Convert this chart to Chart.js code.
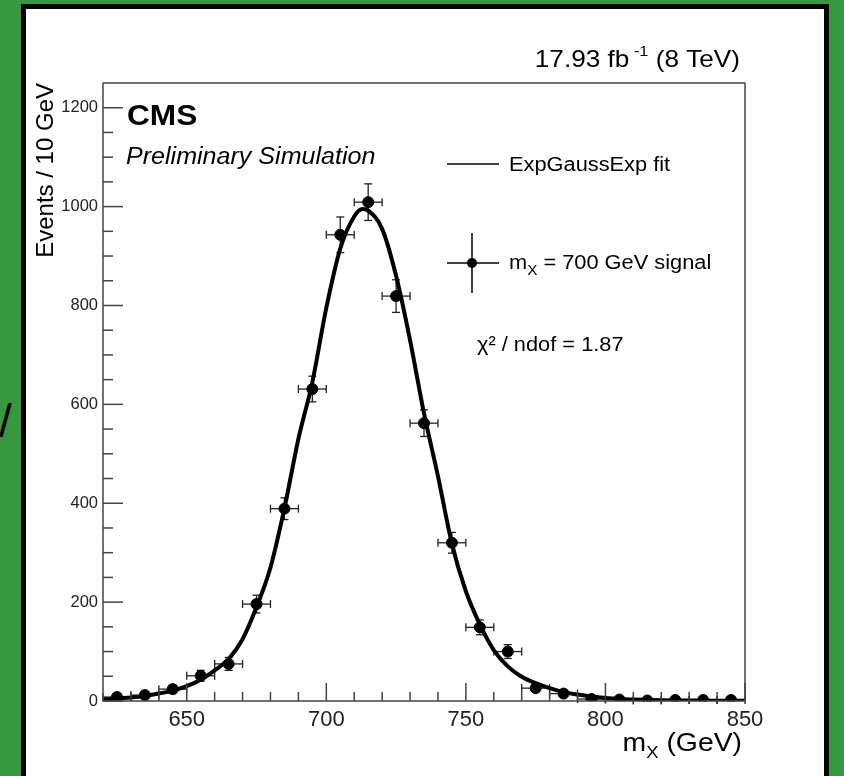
<!DOCTYPE html>
<html>
<head>
<meta charset="utf-8">
<title>m_X signal shape</title>
<script src="https://cdn.jsdelivr.net/npm/chart.js@4"></script>
<style>
  html, body { margin: 0; padding: 0; }
  body { width: 844px; height: 776px; background: #36993f; position: relative; overflow: hidden; }
  #panel { position: absolute; left: 21px; top: 4px; width: 798px; height: 800px; background: #fff; border: 5px solid #000; border-bottom: none; }
  #slash { position: absolute; left: -1px; top: 398px; font: 46px/46px "Liberation Sans", Arial, sans-serif; color: #000; }
  #plot { position: absolute; left: 0; top: 0; }
</style>
</head>
<body>
<div id="panel"></div>
<div id="slash">/</div>
<canvas id="plot" width="844" height="776"></canvas>
<script>
// bin centres (GeV) and weighted events per 10 GeV bin
const massBins = [625, 635, 645, 655, 665, 675, 685, 695, 705, 715, 725, 735,
                  745, 755, 765, 775, 785, 795, 805, 815, 825, 835, 845];
const eventCounts = [8, 12, 24, 51, 75, 196, 389, 631, 943, 1009, 819, 562,
                     320, 149, 100, 26, 15, 4, 3, 1, 2, 2, 2];
const eventErrors = [5, 6, 8, 11, 13, 18, 22, 26, 36, 37, 33, 27,
                     21, 15, 14, 7, 5, 3, 2, 1, 2, 2, 2];
const binHalfWidth = 5;

// ExpGaussExp fit curve sampled along m_X
const fitMass = [620, 625, 630, 635, 640, 645, 650, 655, 660, 665, 670, 675, 680, 685,
                 690, 695, 700, 705, 710, 713, 715, 720, 725, 730, 735, 740, 745, 750,
                 755, 760, 765, 770, 775, 780, 785, 790, 795, 800, 805, 810, 820, 830, 840, 850];
const fitEvents = [3, 5, 7, 10, 15, 21, 30, 43, 62, 85, 125, 190, 270, 390,
                   530, 645, 795, 915, 980, 995, 992, 955, 860, 730, 582, 455, 318, 222,
                   155, 103, 70, 49, 36, 26, 18, 13, 9, 6, 4, 3, 1.5, 1, 0.5, 0.3];

const xTickLabels = [650, 700, 750, 800, 850];
const yTickLabels = [0, 200, 400, 600, 800, 1000, 1200];

const FONT = '"Liberation Sans", Arial, Helvetica, sans-serif';
const STRETCH = 1.09;

// draw a run of text pieces (for sub/superscripts), optionally right aligned
function drawRich(ctx, x, y, pieces, align) {
  ctx.save();
  ctx.fillStyle = '#000';
  ctx.textAlign = 'left';
  ctx.textBaseline = 'alphabetic';
  let total = 0;
  pieces.forEach(p => {
    ctx.font = p.font;
    p.w = ctx.measureText(p.text).width * STRETCH;
    total += p.w;
  });
  let cx = align === 'right' ? x - total : x;
  pieces.forEach(p => {
    ctx.font = p.font;
    ctx.save();
    ctx.translate(cx, y + (p.dy || 0));
    ctx.scale(STRETCH, 1);
    ctx.fillText(p.text, 0, 0);
    ctx.restore();
    cx += p.w;
  });
  ctx.restore();
}

function line(ctx, x1, y1, x2, y2) {
  ctx.beginPath();
  ctx.moveTo(x1, y1);
  ctx.lineTo(x2, y2);
  ctx.stroke();
}

const errorBars = {
  id: 'errorBars',
  beforeDatasetsDraw(chart) {
    const { ctx, scales: { x, y } } = chart;
    ctx.save();
    ctx.strokeStyle = '#222';
    ctx.lineWidth = 1.3;
    massBins.forEach((m, i) => {
      const px = x.getPixelForValue(m);
      const py = y.getPixelForValue(eventCounts[i]);
      const l = x.getPixelForValue(m - binHalfWidth);
      const r = x.getPixelForValue(m + binHalfWidth);
      const t = y.getPixelForValue(eventCounts[i] + eventErrors[i]);
      const b = y.getPixelForValue(Math.max(0, eventCounts[i] - eventErrors[i]));
      line(ctx, l, py, r, py);
      line(ctx, l, py - 4, l, py + 4);
      line(ctx, r, py - 4, r, py + 4);
      line(ctx, px, t, px, b);
      line(ctx, px - 4, t, px + 4, t);
      line(ctx, px - 4, b, px + 4, b);
    });
    ctx.restore();
  }
};

const rootFrame = {
  id: 'rootFrame',
  afterDraw(chart) {
    const { ctx, chartArea: { left, right, top, bottom }, scales: { x, y } } = chart;
    ctx.save();

    // frame and inward ticks
    ctx.strokeStyle = '#444';
    ctx.lineWidth = 1.5;
    ctx.strokeRect(left, top, right - left, bottom - top);
    for (let m = 630; m <= 850; m += 10) {
      const px = x.getPixelForValue(m);
      line(ctx, px, bottom, px, bottom - (xTickLabels.includes(m) ? 18 : 9));
    }
    for (let v = 0; v < 1250; v += 50) {
      const py = y.getPixelForValue(v);
      line(ctx, left, py, left + (yTickLabels.includes(v) ? 20 : 10), py);
    }

    // legend samples
    ctx.strokeStyle = '#000';
    ctx.lineWidth = 1.5;
    line(ctx, 447, 164, 499, 164);
    line(ctx, 447, 263, 499, 263);
    line(ctx, 472, 233, 472, 293);
    ctx.fillStyle = '#000';
    ctx.beginPath();
    ctx.arc(472, 263, 5, 0, Math.PI * 2);
    ctx.fill();
    ctx.restore();

    drawRich(ctx, 509, 171, [{ text: 'ExpGaussExp fit', font: `20px ${FONT}` }]);
    drawRich(ctx, 509, 269, [
      { text: 'm', font: `20px ${FONT}` },
      { text: 'X', font: `14px ${FONT}`, dy: 6 },
      { text: ' = 700 GeV signal', font: `20px ${FONT}` }
    ]);
    drawRich(ctx, 477, 351, [{ text: 'χ² / ndof = 1.87', font: `20px ${FONT}` }]);

    drawRich(ctx, 127, 125, [{ text: 'CMS', font: `bold 29px ${FONT}` }]);
    drawRich(ctx, 126, 164, [{ text: 'Preliminary Simulation', font: `italic 23px ${FONT}` }]);

    drawRich(ctx, 740, 67, [
      { text: '17.93 fb', font: `24px ${FONT}` },
      { text: ' -1', font: `15px ${FONT}`, dy: -11 },
      { text: ' (8 TeV)', font: `24px ${FONT}` }
    ], 'right');

    drawRich(ctx, 742, 751, [
      { text: 'm', font: `26px ${FONT}` },
      { text: 'X', font: `17px ${FONT}`, dy: 7 },
      { text: ' (GeV)', font: `26px ${FONT}` }
    ], 'right');
  }
};

new Chart(document.getElementById('plot'), {
  type: 'scatter',
  data: {
    datasets: [
      {
        label: 'm_X = 700 GeV signal',
        data: massBins.map((m, i) => ({ x: m, y: eventCounts[i] })),
        pointRadius: 5.5,
        pointBackgroundColor: '#000',
        pointBorderColor: '#000',
        showLine: false,
        order: 0
      },
      {
        label: 'ExpGaussExp fit',
        type: 'line',
        data: fitMass.map((m, i) => ({ x: m, y: fitEvents[i] })),
        borderColor: '#000',
        borderWidth: 4,
        pointRadius: 0,
        cubicInterpolationMode: 'monotone',
        fill: false,
        order: 1
      }
    ]
  },
  options: {
    responsive: false,
    animation: false,
    devicePixelRatio: 1,
    layout: { padding: { left: 30, top: 83, right: 99, bottom: 15 } },
    plugins: {
      legend: { display: false },
      tooltip: { enabled: false }
    },
    scales: {
      x: {
        type: 'linear',
        min: 620,
        max: 850,
        grid: { display: false, drawTicks: false },
        border: { display: false },
        afterBuildTicks: s => { s.ticks = xTickLabels.map(v => ({ value: v })); },
        afterFit: s => { s.height = 60; },
        ticks: {
          font: { family: FONT, size: 22 }, color: '#222', padding: 6,
          maxRotation: 0, autoSkip: false, callback: v => String(v)
        }
      },
      y: {
        type: 'linear',
        min: 0,
        max: 1250,
        grid: { display: false, drawTicks: false },
        border: { display: false },
        afterBuildTicks: s => { s.ticks = yTickLabels.map(v => ({ value: v })); },
        afterFit: s => { s.width = 73; },
        ticks: {
          font: { family: FONT, size: 16.5 }, color: '#222', padding: 5,
          autoSkip: false, callback: v => String(v)
        },
        title: {
          display: true,
          text: 'Events / 10 GeV',
          align: 'end',
          color: '#000',
          font: { family: FONT, size: 24 },
          padding: { top: 2, bottom: 4 }
        }
      }
    }
  },
  plugins: [errorBars, rootFrame]
});
</script>
</body>
</html>
